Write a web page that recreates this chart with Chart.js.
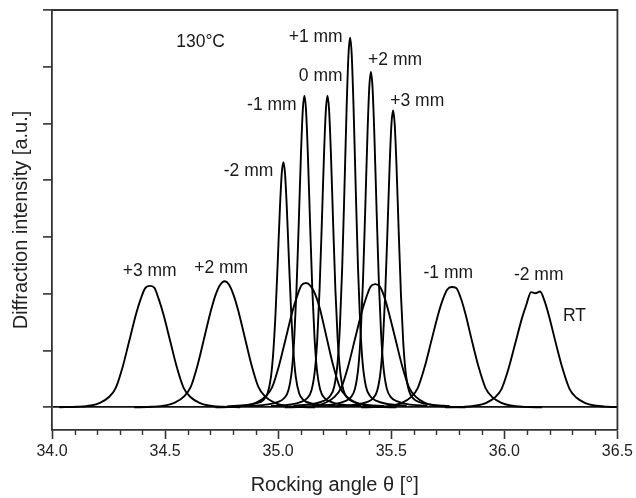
<!DOCTYPE html>
<html>
<head>
<meta charset="utf-8">
<script src="https://cdn.jsdelivr.net/npm/chart.js@4/dist/chart.umd.min.js"></script>
<style>
html,body{margin:0;padding:0;background:#fff;}
#wrap{width:636px;height:498px;position:relative;}
</style>
</head>
<body>
<div id="wrap"><canvas id="c"></canvas></div>
<script>
// ---------- DATA ----------
// Axis
const xTickValues = [34.0, 34.5, 35.0, 35.5, 36.0, 36.5];
const yTickValues = [0, 1, 2, 3, 4, 5, 6, 7];

// 130°C narrow peaks
const n130_m2_x = [34.773,34.863,34.903,34.933,34.953,34.968,34.978,34.988,34.998,35.008,35.016,35.023,35.030,35.038,35.048,35.058,35.068,35.078,35.093,35.113,35.143,35.183,35.273];
const n130_m2_y = [0.017,0.041,0.072,0.125,0.243,0.531,0.950,1.629,2.553,3.534,4.130,4.32,4.130,3.534,2.553,1.629,0.950,0.531,0.243,0.125,0.072,0.041,0.017];

const n130_m1_x = [34.866,34.956,34.996,35.026,35.046,35.061,35.071,35.081,35.091,35.101,35.109,35.116,35.123,35.131,35.141,35.151,35.161,35.171,35.186,35.206,35.236,35.276,35.366];
const n130_m1_y = [0.022,0.052,0.091,0.159,0.309,0.675,1.208,2.070,3.245,4.491,5.248,5.49,5.248,4.491,3.245,2.070,1.208,0.675,0.309,0.159,0.091,0.052,0.022];

const n130_0_x = [34.968,35.058,35.098,35.128,35.148,35.163,35.173,35.183,35.193,35.203,35.211,35.218,35.225,35.233,35.243,35.253,35.263,35.273,35.288,35.308,35.338,35.378,35.468];
const n130_0_y = [0.022,0.052,0.091,0.159,0.309,0.675,1.208,2.070,3.245,4.491,5.248,5.49,5.248,4.491,3.245,2.070,1.208,0.675,0.309,0.159,0.091,0.052,0.022];

const n130_p1_x = [35.068,35.158,35.198,35.228,35.248,35.263,35.273,35.283,35.293,35.303,35.311,35.318,35.325,35.333,35.343,35.353,35.363,35.373,35.388,35.408,35.438,35.478,35.568];
const n130_p1_y = [0.026,0.062,0.108,0.189,0.367,0.801,1.432,2.454,3.847,5.325,6.224,6.51,6.224,5.325,3.847,2.454,1.432,0.801,0.367,0.189,0.108,0.062,0.026];

const n130_p2_x = [35.160,35.250,35.290,35.320,35.340,35.355,35.365,35.375,35.385,35.395,35.403,35.410,35.417,35.425,35.435,35.445,35.455,35.465,35.480,35.500,35.530,35.570,35.660];
const n130_p2_y = [0.024,0.056,0.098,0.171,0.333,0.727,1.300,2.228,3.493,4.834,5.650,5.91,5.650,4.834,3.493,2.228,1.300,0.727,0.333,0.171,0.098,0.056,0.024];

const n130_p3_x = [35.258,35.348,35.388,35.418,35.438,35.453,35.463,35.473,35.483,35.493,35.501,35.508,35.515,35.523,35.533,35.543,35.553,35.563,35.578,35.598,35.628,35.668,35.758];
const n130_p3_y = [0.021,0.050,0.087,0.152,0.294,0.643,1.151,1.972,3.091,4.278,5.000,5.23,5.000,4.278,3.091,1.972,1.151,0.643,0.294,0.152,0.087,0.050,0.021];

// RT broad peaks
const rt_p3_x = [34.032,34.112,34.172,34.212,34.252,34.282,34.312,34.342,34.372,34.392,34.412,34.432,34.452,34.472,34.492,34.522,34.552,34.582,34.612,34.652,34.692,34.752,34.832];
const rt_p3_y = [0,0.009,0.032,0.079,0.182,0.342,0.706,1.177,1.648,1.905,2.100,2.14,2.110,1.905,1.648,1.177,0.706,0.342,0.182,0.079,0.032,0.009,0];

const rt_p2_x = [34.363,34.443,34.503,34.543,34.583,34.613,34.643,34.673,34.703,34.723,34.743,34.763,34.783,34.803,34.823,34.853,34.883,34.913,34.943,34.983,35.023,35.083,35.163];
const rt_p2_y = [0,0.009,0.033,0.082,0.189,0.355,0.733,1.221,1.709,1.976,2.153,2.22,2.160,1.976,1.709,1.221,0.733,0.355,0.189,0.082,0.033,0.009,0];

const rt_p1_x = [34.723,34.803,34.863,34.903,34.943,34.973,35.003,35.033,35.063,35.083,35.103,35.123,35.143,35.163,35.183,35.213,35.243,35.273,35.303,35.343,35.383,35.443,35.523];
const rt_p1_y = [0,0.009,0.033,0.081,0.186,0.350,0.723,1.205,1.686,1.949,2.150,2.19,2.140,2.000,1.760,1.250,0.740,0.350,0.186,0.081,0.033,0.009,0];

const rt_0_x = [35.029,35.109,35.169,35.209,35.249,35.279,35.309,35.339,35.369,35.389,35.409,35.429,35.449,35.469,35.489,35.519,35.549,35.579,35.609,35.649,35.689,35.749,35.829];
const rt_0_y = [0,0.009,0.033,0.080,0.184,0.347,0.716,1.194,1.671,1.931,2.130,2.17,2.130,1.950,1.671,1.194,0.716,0.347,0.184,0.080,0.033,0.009,0];

const rt_m1_x = [35.367,35.447,35.507,35.547,35.587,35.617,35.647,35.677,35.707,35.727,35.747,35.767,35.787,35.807,35.827,35.857,35.887,35.917,35.947,35.987,36.027,36.087,36.167];
const rt_m1_y = [0,0.008,0.032,0.078,0.180,0.339,0.700,1.166,1.632,1.887,2.070,2.12,2.100,1.930,1.660,1.166,0.700,0.339,0.180,0.078,0.032,0.008,0];

const rt_m2_x = [35.738,35.818,35.878,35.918,35.958,35.988,36.018,36.048,36.078,36.098,36.118,36.138,36.158,36.178,36.198,36.228,36.258,36.288,36.318,36.358,36.398,36.458,36.500];
const rt_m2_y = [0,0.008,0.031,0.075,0.173,0.326,0.673,1.122,1.571,1.816,2.030,2.010,2.040,1.870,1.600,1.122,0.673,0.326,0.173,0.075,0.031,0.009,0.003];

// Text annotations (text, θ, intensity)
const noteTexts = ["130°C","+1 mm","0 mm","-1 mm","-2 mm","+2 mm","+3 mm","+3 mm","+2 mm","-1 mm","-2 mm","RT"];
const noteX     = [34.657, 35.166, 35.188, 34.972, 34.869, 35.517, 35.615, 34.432, 34.748, 35.752, 36.152, 36.310];
const noteY     = [6.44,   6.53,   5.84,   5.33,   4.16,   6.12,   5.39,   2.39,   2.45,   2.36,   2.32,   1.61];

// ---------- CHART ----------
const seriesList = [
  [n130_m2_x, n130_m2_y],[n130_m1_x, n130_m1_y],[n130_0_x, n130_0_y],
  [n130_p1_x, n130_p1_y],[n130_p2_x, n130_p2_y],[n130_p3_x, n130_p3_y],
  [rt_p3_x, rt_p3_y],[rt_p2_x, rt_p2_y],[rt_p1_x, rt_p1_y],
  [rt_0_x, rt_0_y],[rt_m1_x, rt_m1_y],[rt_m2_x, rt_m2_y]
];
const datasets = seriesList.map(([xs, ys]) => ({
  data: xs.map((x, i) => ({x: x, y: ys[i]})),
  borderColor: '#000',
  borderWidth: 1.9,
  pointRadius: 0,
  fill: false,
  cubicInterpolationMode: 'monotone'
}));

const FONT = "'Liberation Sans', Arial, sans-serif";
const AXIS_COLOR = '#333';

const framePlugin = {
  id: 'frame',
  afterDraw(chart) {
    const ctx = chart.ctx;
    const a = chart.chartArea;
    const xs = chart.scales.x;
    ctx.save();
    ctx.strokeStyle = AXIS_COLOR;
    ctx.lineWidth = 1.8;
    ctx.beginPath();
    ctx.moveTo(a.left, a.top);
    ctx.lineTo(a.right, a.top);
    ctx.lineTo(a.right, a.bottom);
    ctx.stroke();
    // minor x ticks every 0.1
    ctx.lineWidth = 1.4;
    for (let i = 341; i < 365; i++) {
      if (i % 5 === 0) continue;
      const px = Math.round(xs.getPixelForValue(i / 10)) + 0.5;
      ctx.beginPath();
      ctx.moveTo(px, a.bottom);
      ctx.lineTo(px, a.bottom + 5);
      ctx.stroke();
    }
    // annotations
    ctx.fillStyle = '#1a1a1a';
    ctx.font = '17.5px ' + FONT;
    ctx.textAlign = 'center';
    ctx.textBaseline = 'middle';
    const ys = chart.scales.y;
    noteTexts.forEach((t, i) => {
      ctx.fillText(t, xs.getPixelForValue(noteX[i]), ys.getPixelForValue(noteY[i]));
    });
    ctx.restore();
  }
};

new Chart(document.getElementById('c'), {
  type: 'line',
  data: { datasets: datasets },
  options: {
    responsive: true,
    maintainAspectRatio: false,
    animation: false,
    events: [],
    layout: { padding: { left: 0, right: 17, top: 10, bottom: 0 } },
    plugins: { legend: { display: false }, tooltip: { enabled: false } },
    scales: {
      x: {
        type: 'linear',
        min: 34.0,
        max: 36.5,
        afterBuildTicks: (axis) => { axis.ticks = xTickValues.map(v => ({value: v})); },
        afterFit: (scale) => { scale.height = 68; },
        border: { display: true, color: AXIS_COLOR, width: 1.8 },
        grid: { drawOnChartArea: false, drawTicks: true, tickLength: 9, tickColor: AXIS_COLOR, tickWidth: 1.6 },
        ticks: {
          autoSkip: false, maxRotation: 0, padding: 3,
          color: '#222', font: { family: FONT, size: 16 },
          callback: (v) => Number(v).toFixed(1)
        },
        title: {
          display: true, text: 'Rocking angle θ [°]', color: '#222',
          font: { family: FONT, size: 20 }, padding: { top: 0, bottom: 1 }
        }
      },
      y: {
        type: 'linear',
        min: -0.4,
        max: 7,
        afterBuildTicks: (axis) => { axis.ticks = yTickValues.map(v => ({value: v})); },
        afterFit: (scale) => { scale.width = 52; },
        border: { display: true, color: AXIS_COLOR, width: 1.8 },
        grid: {
          drawOnChartArea: true, drawTicks: true, tickLength: 9,
          tickColor: AXIS_COLOR, tickWidth: 1.6,
          color: (ctx) => (ctx.tick && ctx.tick.value === 0) ? '#111' : 'rgba(0,0,0,0)',
          lineWidth: 1.8
        },
        ticks: { display: false },
        title: {
          display: true, text: 'Diffraction intensity [a.u.]', color: '#222',
          font: { family: FONT, size: 20 }, padding: { top: 9, bottom: 0 }
        }
      }
    }
  },
  plugins: [framePlugin]
});
</script>
</body>
</html>
